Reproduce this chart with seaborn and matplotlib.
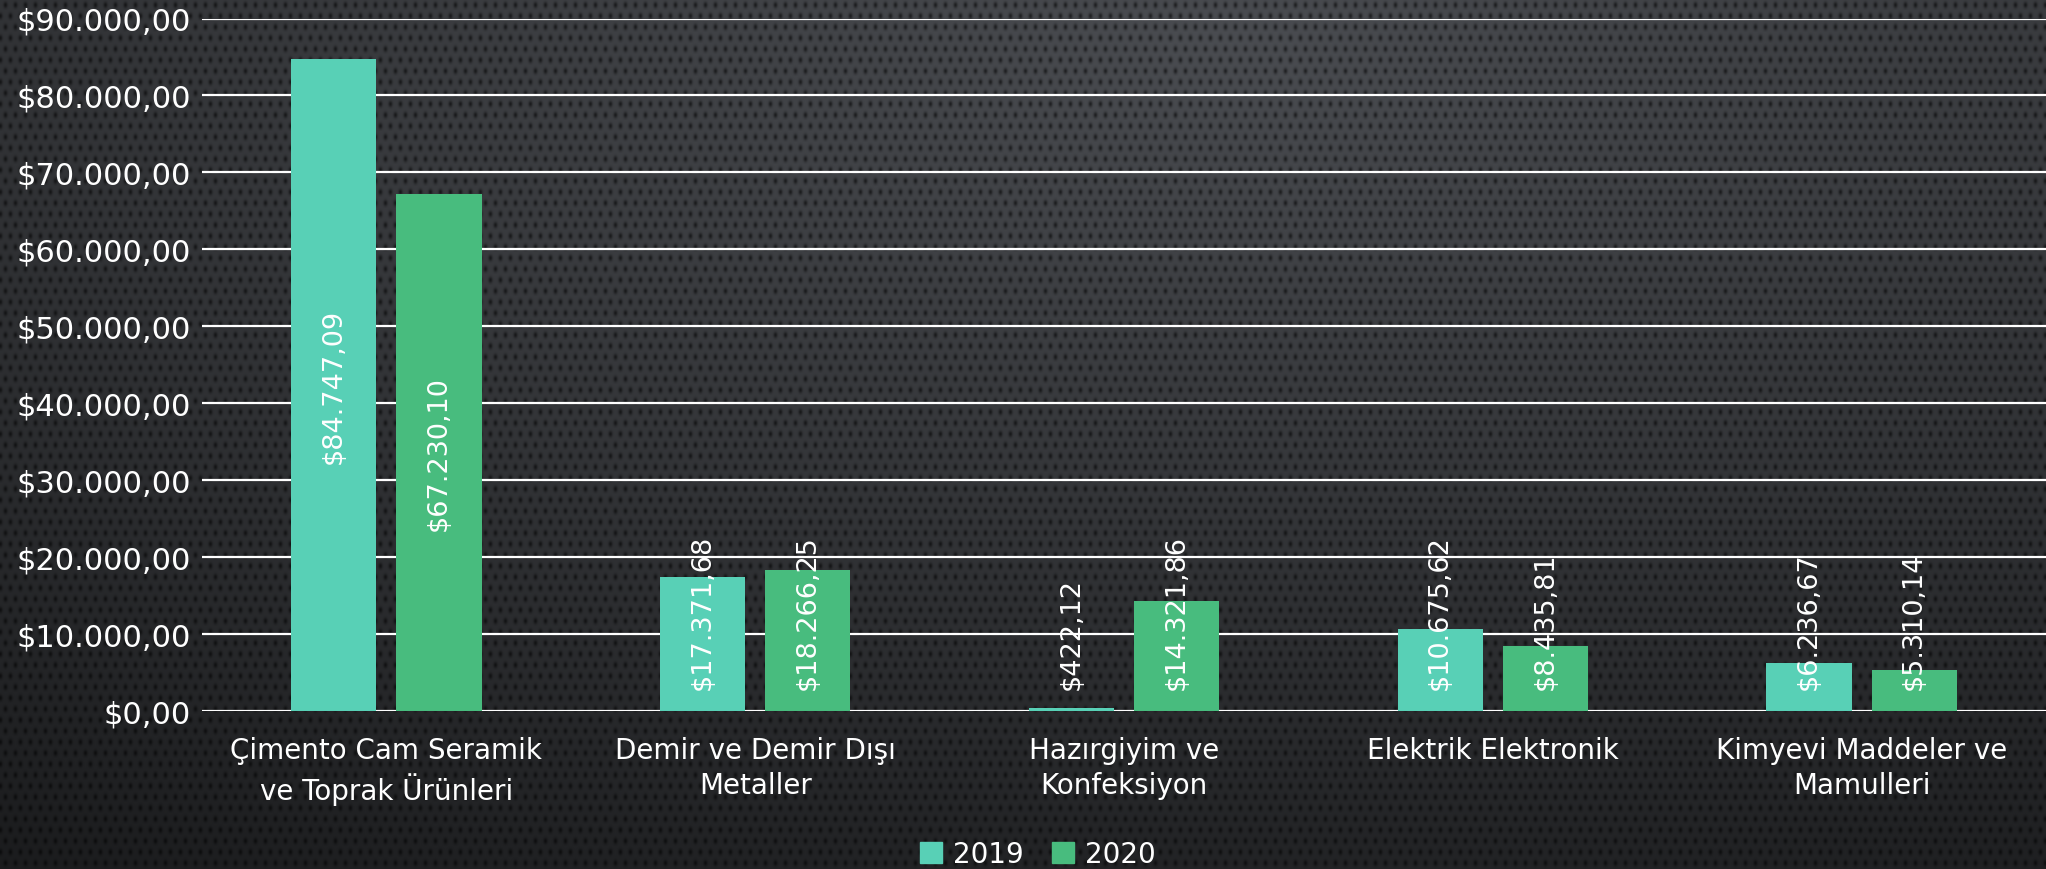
import numpy as np
import pandas as pd
import matplotlib
matplotlib.use("Agg")
import matplotlib.pyplot as plt
import seaborn as sns
from matplotlib.ticker import FuncFormatter

# Veriler
categories = [
    "Çimento Cam Seramik\nve Toprak Ürünleri",
    "Demir ve Demir Dışı\nMetaller",
    "Hazırgiyim ve\nKonfeksiyon",
    "Elektrik Elektronik",
    "Kimyevi Maddeler ve\nMamulleri",
]
years = ["2019", "2020"]
values_2019 = [84747.09, 17371.68, 422.12, 10675.62, 6236.67]
values_2020 = [67230.10, 18266.25, 14321.86, 8435.81, 5310.14]
colors = ["#58D0B6", "#48BC7E"]

df = pd.DataFrame({
    "kategori": categories * 2,
    "yil": [years[0]] * 5 + [years[1]] * 5,
    "deger": values_2019 + values_2020,
})


def tr_money(v):
    s = f"{v:,.2f}"
    s = s.replace(",", "X").replace(".", ",").replace("X", ".")
    return "$" + s


W, H = 2046, 870
fig = plt.figure(figsize=(W / 100, H / 100), dpi=100)

# Arka plan: koyu, noktalı doku
yy, xx = np.mgrid[0:H, 0:W].astype(float)
cx, cy = W * 0.6, H * 0.05
r = np.sqrt(((xx - cx) / W) ** 2 + ((yy - cy) / H) ** 2)
base = np.clip(0.30 - 0.17 * r, 0.09, 0.30)
row = (yy // 11)
xs = xx + (row % 2) * 5
dx = (xs % 10) - 5
dy = (yy % 11) - 5.5
dot = np.exp(-(dx ** 2 / 4.0 + dy ** 2 / 9.0))
lum = base * (1 - 0.55 * dot)
bg = np.dstack([lum * 0.97, lum, lum * 1.06])
bg = np.clip(bg, 0, 1)
fig.figimage(bg, 0, 0, zorder=-10, origin="upper")

ax = fig.add_axes([202 / W, 1 - 712 / H, 1 - 202 / W, (712 - 19.5) / H])
ax.set_zorder(5)
ax.patch.set_alpha(0)

sns.barplot(data=df, x="kategori", y="deger", hue="yil", palette=colors,
            width=0.57, gap=0.19, saturation=1, ax=ax, legend=True, zorder=3)

ax.set_ylim(0, 90000)
ax.set_xlim(-0.5, 4.5)
ax.set_yticks(np.arange(0, 90001, 10000))
ax.yaxis.set_major_formatter(FuncFormatter(lambda v, p: tr_money(v)))
ax.grid(axis="y", color="white", linewidth=1.6, zorder=1)
ax.set_axisbelow(True)
for s in ax.spines.values():
    s.set_visible(False)
ax.tick_params(axis="both", length=0, colors="white")
ax.tick_params(axis="y", labelsize=22, pad=8)
ax.tick_params(axis="x", labelsize=20, pad=18)
for t in ax.get_yticklabels() + ax.get_xticklabels():
    t.set_fontfamily("DejaVu Sans")
    t.set_color("white")
for t in ax.get_xticklabels():
    t.set_linespacing(1.3)
ax.set_xlabel("")
ax.set_ylabel("")

# Değer etiketleri
for cont in ax.containers:
    for bar in cont:
        v = bar.get_height()
        xc = bar.get_x() + bar.get_width() / 2
        if v > 40000:
            ax.text(xc, v / 2, tr_money(v), rotation=90, ha="center", va="center",
                    color="white", fontsize=19.5, zorder=5)
        else:
            ax.text(xc, 2900, tr_money(v), rotation=90, ha="center", va="bottom",
                    color="white", fontsize=19.5, zorder=5)

ax.get_legend().remove()
handles = [plt.Rectangle((0, 0), 1, 1, color=c) for c in colors]
leg = fig.legend(handles, years, loc="center", bbox_to_anchor=(1038 / W, 1 - 855 / H),
                 ncol=2, frameon=False, handlelength=0.8, handleheight=0.8,
                 handletextpad=0.4, columnspacing=1.0,
                 prop={"family": "DejaVu Sans", "size": 20})
for t in leg.get_texts():
    t.set_color("white")

fig.savefig("out.png", dpi=100)
